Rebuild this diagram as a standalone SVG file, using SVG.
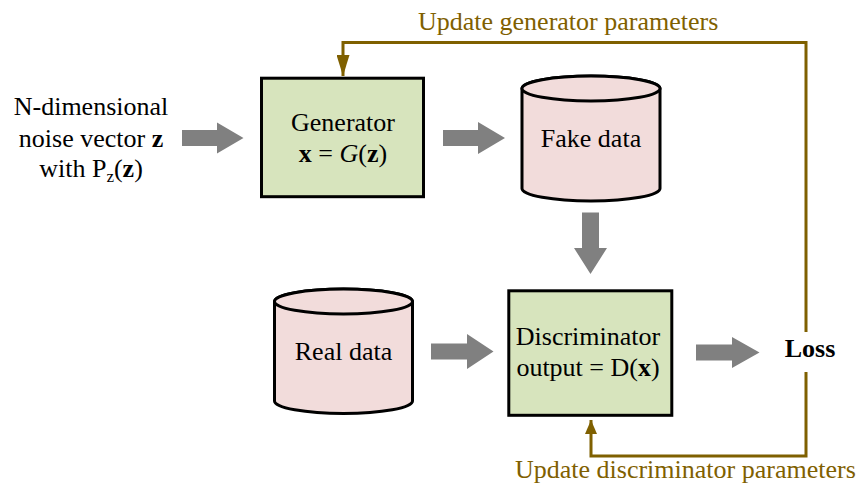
<svg xmlns="http://www.w3.org/2000/svg" width="857" height="489" viewBox="0 0 857 489">
  <style>
    text { font-family: "Liberation Serif", "Times New Roman", serif; font-size: 26px; fill: #000; }
    .gold { fill: #7F6000; }
    .b { font-weight: bold; }
    .i { font-style: italic; }
    .box { fill: #D7E4BD; stroke: #000; stroke-width: 3; }
    .cyl { fill: #F2DCDB; stroke: #000; stroke-width: 3; }
    .blk { fill: #808080; stroke: none; }
    .fb { fill: none; stroke: #7F6000; stroke-width: 3; }
  </style>
  <defs>
    <marker id="ahTop" viewBox="0 0 21 13" refX="21" refY="6.5" markerWidth="21" markerHeight="13" markerUnits="userSpaceOnUse" orient="auto">
      <path d="M0,0 L21,6.5 L0,13 Z" fill="#7F6000"/>
    </marker>
    <marker id="ahBot" viewBox="0 0 14 12" refX="14" refY="6" markerWidth="14" markerHeight="12" markerUnits="userSpaceOnUse" orient="auto">
      <path d="M0,0 L14,6 L0,12 Z" fill="#7F6000"/>
    </marker>
  </defs>

  <g id="connectors">
    <polygon class="blk" points="182,130 217,130 217,122.5 243.5,138 217,153.5 217,146 182,146"/>
    <polygon class="blk" points="443,130 478,130 478,122 505,138 478,154 478,146 443,146"/>
    <polygon class="blk" points="582,212.5 599,212.5 599,248 607,248 590.5,274 574,248 582,248"/>
    <polygon class="blk" points="431,343.5 467,343.5 467,334 493.5,351.5 467,369 467,359.5 431,359.5"/>
    <polygon class="blk" points="696,344.5 732,344.5 732,337 759.5,352.5 732,368 732,360.5 696,360.5"/>
    <path class="fb" d="M806,332 V42.5 H343 V76" marker-end="url(#ahTop)"/>
    <path class="fb" d="M806,372 V456 H591 V420" marker-end="url(#ahBot)"/>
    <text class="gold" x="418" y="30">Update generator parameters</text>
    <text class="gold" x="515" y="478">Update discriminator parameters</text>
  </g>

  <g id="noise">
    <text x="91" y="115" text-anchor="middle">N-dimensional</text>
    <text x="91" y="147" text-anchor="middle">noise vector <tspan class="b">z</tspan></text>
    <text x="91" y="177" text-anchor="middle">with P<tspan font-size="17" dy="5">z</tspan><tspan dy="-5">(</tspan><tspan class="b">z</tspan>)</text>
  </g>

  <g id="generator">
    <rect class="box" x="261.5" y="78.2" width="162" height="118.5"/>
    <text x="343" y="131" text-anchor="middle">Generator</text>
    <text x="343" y="162" text-anchor="middle"><tspan class="b">x</tspan> = <tspan class="i">G</tspan>(<tspan class="b">z</tspan>)</text>
  </g>

  <g id="fake-data">
    <path class="cyl" d="M522,88.5 V188.5 A69,12.5 0 0 0 660,188.5 V88.5 A69,12.5 0 0 0 522,88.5 Z"/>
    <ellipse class="cyl" cx="591" cy="88.5" rx="69" ry="12.5"/>
    <text x="591" y="147" text-anchor="middle">Fake data</text>
  </g>

  <g id="real-data">
    <path class="cyl" d="M274.5,301.5 V401 A69,12.5 0 0 0 412.5,401 V301.5 A69,12.5 0 0 0 274.5,301.5 Z"/>
    <ellipse class="cyl" cx="343.5" cy="301.5" rx="69" ry="12.5"/>
    <text x="343.5" y="360" text-anchor="middle">Real data</text>
  </g>

  <g id="discriminator">
    <rect class="box" x="508.8" y="290.8" width="163" height="124.5"/>
    <text x="588" y="345" text-anchor="middle">Discriminator</text>
    <text x="588" y="376" text-anchor="middle">output = D(<tspan class="b">x</tspan>)</text>
  </g>

  <g id="loss">
    <text class="b" x="810" y="357" text-anchor="middle" font-size="25">Loss</text>
  </g>
</svg>
